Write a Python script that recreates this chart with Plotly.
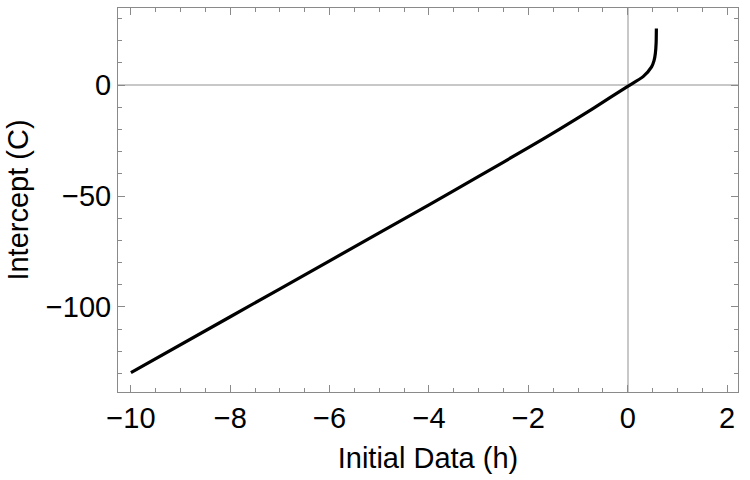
import plotly.graph_objects as go

h_vals = [-10, -8, -6, -4, -3, -2, -1.37, -0.7, 0, 0.31, 0.48, 0.53, 0.557, 0.572, 0.577]
c_vals = [-129.6, -104.4, -79.2, -54.0, -41.2, -28.2, -19.9, -10.6, -0.6, 3.8, 8.2, 11.0, 14.3, 19.0, 25.5]

x_ticks = [-10, -8, -6, -4, -2, 0, 2]
y_ticks = [-100, -50, 0]

FONT = "Liberation Sans, Arial, sans-serif"

fig = go.Figure()
fig.add_trace(go.Scatter(x=h_vals, y=c_vals, mode="lines",
                         line=dict(color="black", width=3.2, shape="spline", smoothing=0.6),
                         showlegend=False))

axis_common = dict(
    showline=True, linecolor="#8a8a8a", linewidth=1, mirror="ticks",
    ticks="inside", tickcolor="#8a8a8a", ticklen=7, tickwidth=1,
    showgrid=False, zeroline=True, zerolinecolor="#c8c8c8", zerolinewidth=2,
    tickfont=dict(family=FONT, size=29, color="black"),
)

fig.update_xaxes(range=[-10.26, 2.22], tickvals=x_ticks,
                 minor=dict(ticks="inside", ticklen=4, dtick=0.5, tick0=0, tickcolor="#8a8a8a", showgrid=False),
                 title=dict(text="Initial Data (h)", font=dict(family=FONT, size=29, color="black"), standoff=14),
                 **axis_common)
fig.update_yaxes(range=[-138.3, 34.7], tickvals=y_ticks,
                 minor=dict(ticks="inside", ticklen=4, dtick=10, tick0=0, tickcolor="#8a8a8a", showgrid=False),
                 title=dict(text="Intercept (C)", font=dict(family=FONT, size=29, color="black"), standoff=8),
                 **axis_common)

fig.update_layout(width=750, height=480, margin=dict(l=118, r=12, t=8, b=88),
                  plot_bgcolor="white", paper_bgcolor="white")
fig.write_html("out.html")
